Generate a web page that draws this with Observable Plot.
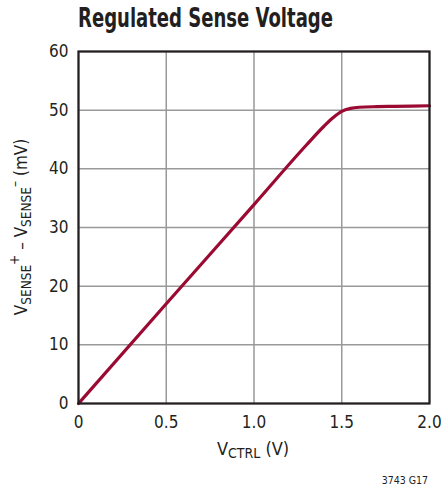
<!DOCTYPE html>
<html><head><meta charset="utf-8">
<script src="https://cdn.jsdelivr.net/npm/d3@7"></script>
<script src="https://cdn.jsdelivr.net/npm/@observablehq/plot@0.6"></script>
<style>
body{margin:0;background:#fff;}
</style></head><body>
<div id="chart"></div>
<script>
const titleText = "Regulated Sense Voltage";
const captionText = "3743 G17";
const vctrl  = [0, 0.5, 1.0, 1.3, 1.4, 1.45, 1.5, 1.55, 1.6, 1.7, 1.8, 2.0];
const vsense = [0, 17.0, 33.9, 44.1, 47.3, 48.7, 49.8, 50.3, 50.5, 50.6, 50.65, 50.75];
const xTicks = [0, 0.5, 1.0, 1.5, 2.0];
const xTickLabels = ["0", "0.5", "1.0", "1.5", "2.0"];
const yTicks = [0, 10, 20, 30, 40, 50, 60];

const data = vctrl.map((x, i) => ({x, y: vsense[i]}));
const FONT = '"Liberation Sans Narrow","Arial Narrow","DejaVu Sans Condensed",sans-serif';
const INK = "#231f20";

const svg = Plot.plot({
  width: 443, height: 488,
  marginTop: 51, marginBottom: 85, marginLeft: 78, marginRight: 14,
  style: {fontFamily: FONT, fontSize: "17px", color: INK, background: "#fff", overflow: "visible"},
  x: {domain: [0, 2], ticks: xTicks, tickFormat: (d, i) => xTickLabels[i], tickSize: 0, tickPadding: 12, label: null},
  y: {domain: [0, 60], ticks: yTicks, tickSize: 0, tickPadding: 10, label: null},
  marks: [
    Plot.gridX(xTicks, {stroke: "#999", strokeOpacity: 1, strokeWidth: 1.5}),
    Plot.gridY(yTicks, {stroke: "#999", strokeOpacity: 1, strokeWidth: 1.5}),
    Plot.line(data, {x: "x", y: "y", stroke: "#9b0a32", strokeWidth: 3.2, curve: "monotone-x"}),
    Plot.frame({stroke: INK, strokeWidth: 2.2}),
    Plot.axisX({ticks: xTicks, tickFormat: (d, i) => xTickLabels[i], tickSize: 0, tickPadding: 12, fontSize: 17, label: null}),
    Plot.axisY({ticks: yTicks, tickSize: 0, tickPadding: 10, fontSize: 17, label: null})
  ]
});
document.getElementById("chart").appendChild(svg);

const s = d3.select(svg);
s.append("text")
  .attr("x", 78).attr("y", 27)
  .attr("text-anchor", "start")
  .attr("font-family", FONT).attr("font-weight", "bold").attr("font-size", 26)
  .attr("fill", INK)
  .attr("textLength", 255).attr("lengthAdjust", "spacingAndGlyphs")
  .text(titleText);

const xl = s.append("text")
  .attr("x", 253).attr("y", 455)
  .attr("text-anchor", "middle")
  .attr("font-family", FONT).attr("font-size", 18).attr("fill", INK);
xl.append("tspan").text("V");
xl.append("tspan").attr("font-size", 14).attr("dy", 3).text("CTRL");
xl.append("tspan").attr("dy", -3).text(" (V)");

const yl = s.append("text")
  .attr("transform", "translate(27,227) rotate(-90)")
  .attr("text-anchor", "middle")
  .attr("font-family", FONT).attr("font-size", 17).attr("fill", INK);
yl.append("tspan").text("V");
yl.append("tspan").attr("font-size", 13.5).attr("dy", 4).text("SENSE");
yl.append("tspan").attr("font-size", 13.5).attr("dy", -12).text("+");
yl.append("tspan").attr("dy", 8).text(" \u2013 V");
yl.append("tspan").attr("font-size", 13.5).attr("dy", 4).text("SENSE");
yl.append("tspan").attr("font-size", 13.5).attr("dy", -12).text("\u2013");
yl.append("tspan").attr("dy", 8).text(" (mV)");

s.append("text")
  .attr("x", 428).attr("y", 484)
  .attr("text-anchor", "end")
  .attr("font-family", FONT).attr("font-size", 10.5).attr("fill", INK)
  .text(captionText);
</script>
</body></html>
